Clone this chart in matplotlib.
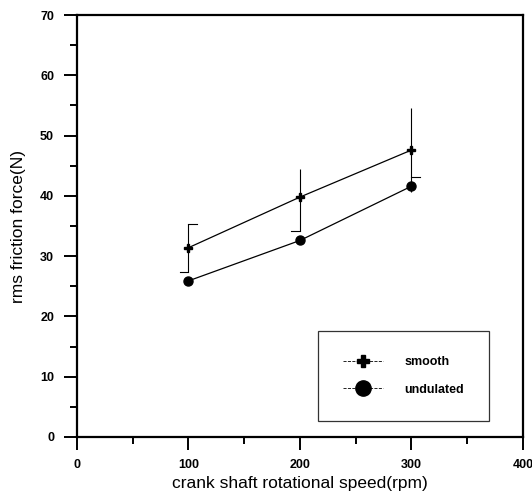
import matplotlib.pyplot as plt
from matplotlib.lines import Line2D
from matplotlib.ticker import MultipleLocator

plt.rcParams["font.family"] = ["Liberation Sans", "DejaVu Sans"]

# data
speed = [100, 200, 300]
smooth = [31.4, 39.8, 47.6]
undulated = [25.9, 32.6, 41.6]

# smooth error range (one-sided look in the original)
err_low = [27.3, 34.2, 40.7]
err_high = [35.4, 44.4, 54.5]
cap_y = [[35.4, 27.3], [34.2], [43.1]]
cap_dir = [[1, -1], [-1], [1]]

fig = plt.figure(figsize=(5.32, 4.94), dpi=100)
ax = fig.add_axes([0.1447, 0.1154, 0.8383, 0.8542])

ax.vlines(speed, err_low, err_high, color="black", lw=0.8)
for x, ys, ds in zip(speed, cap_y, cap_dir):
    for y, d in zip(ys, ds):
        ax.plot([x, x + d * 8], [y, y], color="black", lw=0.8)

ax.plot(speed, smooth, color="black", lw=0.9, marker="P", markersize=6)
ax.plot(speed, undulated, color="black", lw=0.9, marker="o", markersize=6.5)

ax.set_xlim(0, 400)
ax.set_ylim(0, 70)
ax.xaxis.set_major_locator(MultipleLocator(100))
ax.xaxis.set_minor_locator(MultipleLocator(50))
ax.yaxis.set_major_locator(MultipleLocator(10))
ax.yaxis.set_minor_locator(MultipleLocator(5))
ax.tick_params(which="major", direction="out", length=9.5, width=1.4, labelsize=9)
ax.tick_params(axis="x", which="major", pad=6)
ax.tick_params(axis="y", which="major", pad=7)
ax.tick_params(which="minor", direction="out", length=5, width=1.4)
for lab in ax.get_xticklabels() + ax.get_yticklabels():
    lab.set_fontweight("bold")
for s in ax.spines.values():
    s.set_linewidth(1.6)

ax.set_xlabel("crank shaft rotational speed(rpm)", fontsize=12.5, labelpad=4)
ax.set_ylabel("rms friction force(N)", fontsize=12.5, labelpad=10)

handles = [
    Line2D([], [], color="black", lw=0.6, ls="--", marker="P", markersize=9),
    Line2D([], [], color="black", lw=0.6, ls="--", marker="o", markersize=11),
]
leg = ax.legend(handles, ["smooth", "undulated"], loc="upper left",
                bbox_to_anchor=(0.540, 0.251), borderaxespad=0,
                frameon=True, fancybox=False, edgecolor="black",
                prop={"weight": "bold", "size": 9}, handlelength=3.2,
                labelspacing=1.24, handletextpad=1.75, borderpad=2.0)
leg.get_frame().set_linewidth(0.9)

fig.savefig("out.png", dpi=100)
